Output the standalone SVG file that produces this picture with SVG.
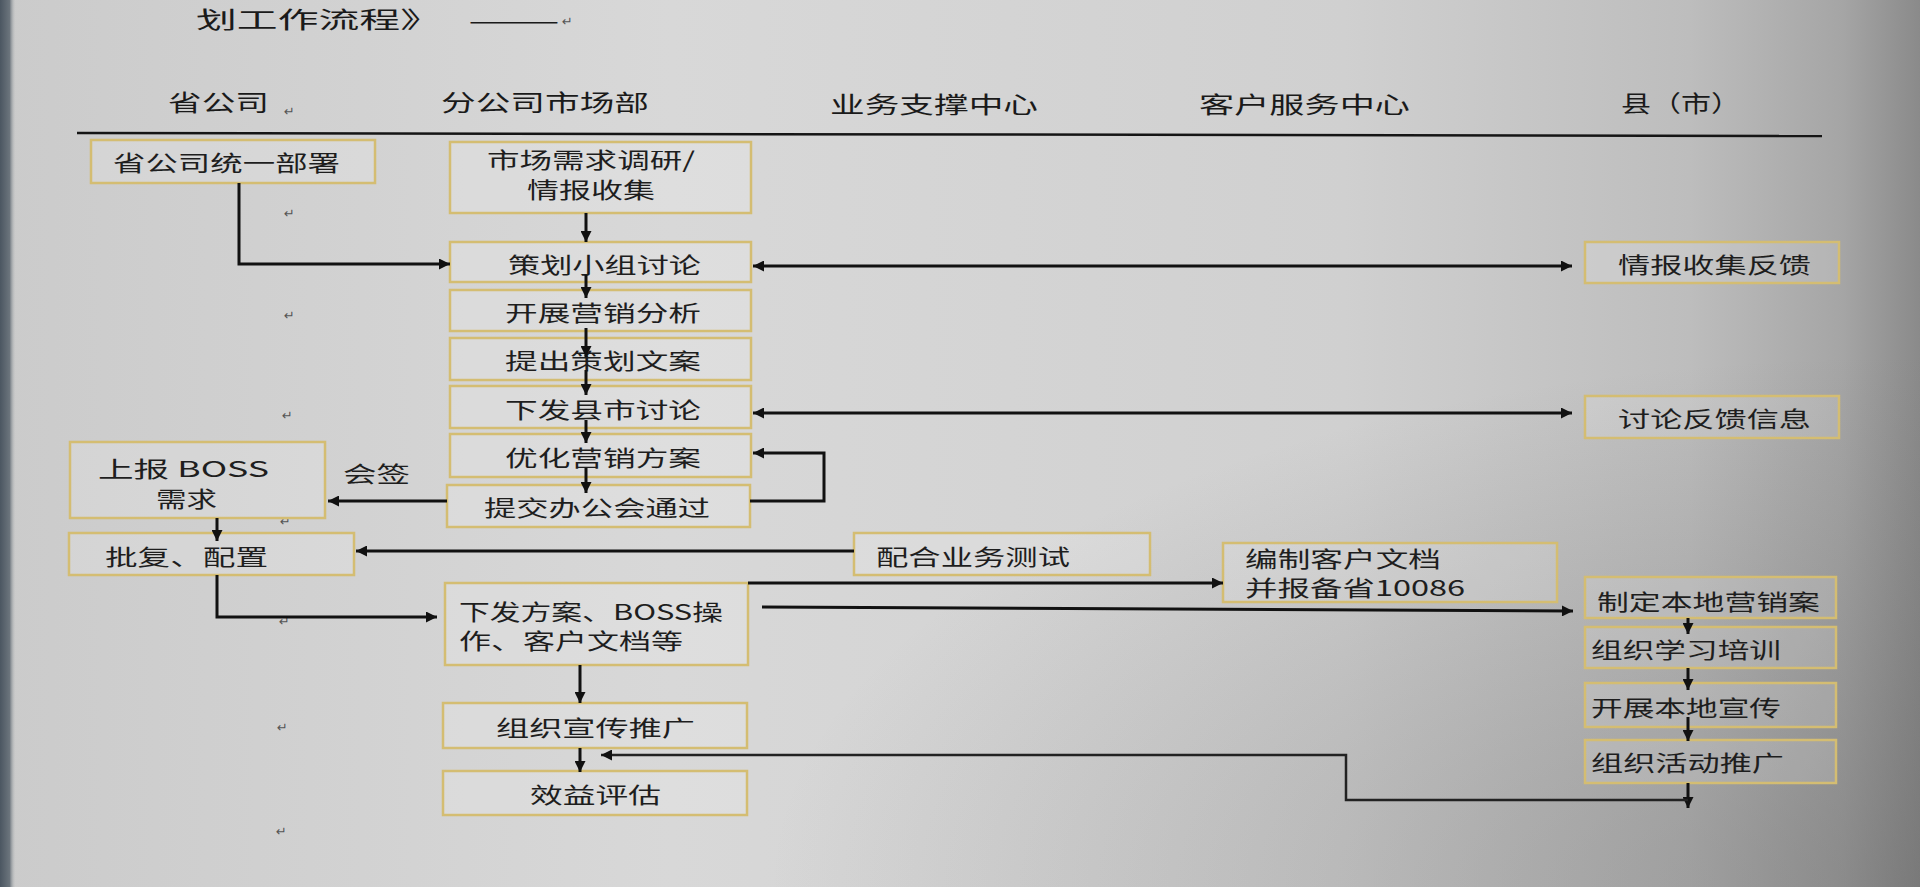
<svg xmlns="http://www.w3.org/2000/svg" width="1920" height="887" viewBox="0 0 1920 887">
<defs>
<linearGradient id="bg" x1="0" y1="0" x2="1" y2="0">
<stop offset="0" stop-color="#cbcbcb"/>
<stop offset="0.35" stop-color="#d8d8d8"/>
<stop offset="0.7" stop-color="#d0d0d0"/>
<stop offset="0.88" stop-color="#bdbdbd"/>
<stop offset="0.96" stop-color="#a5a5a5"/>
<stop offset="1" stop-color="#8a8a8a"/>
</linearGradient>
<linearGradient id="edge" x1="0" y1="0" x2="1" y2="0">
<stop offset="0" stop-color="#4b5661"/>
<stop offset="0.6" stop-color="#6b747c"/>
<stop offset="1" stop-color="#cbcbcb" stop-opacity="0"/>
</linearGradient>
<radialGradient id="shade" cx="1" cy="1" r="0.6">
<stop offset="0" stop-color="#606060" stop-opacity="0.4"/>
<stop offset="1" stop-color="#606060" stop-opacity="0"/>
</radialGradient>
<marker id="ah" viewBox="0 0 10 10" refX="10" refY="5" markerWidth="13" markerHeight="11" markerUnits="userSpaceOnUse" orient="auto-start-reverse">
<path d="M0,0 L10,5 L0,10 z" fill="#111"/>
</marker>
<style>
.box{fill:#ffffff;fill-opacity:0.16;stroke:#d4bd72;stroke-width:2.5}
.t{font-family:"Noto Sans CJK SC","DejaVu Sans",sans-serif;font-size:22px;fill:#1e1e1e}
.h{font-family:"Noto Sans CJK SC","DejaVu Sans",sans-serif;font-size:23px;fill:#1a1a1a}
.rm{font-family:"DejaVu Sans",sans-serif;font-size:13px;fill:#555}
.c{fill:none;stroke:#111;stroke-width:3}
.c2{fill:none;stroke:#222;stroke-width:2.5}
</style>
</defs>
<rect x="0" y="0" width="1920" height="887" fill="url(#bg)"/>
<rect x="0" y="0" width="1920" height="887" fill="url(#shade)"/>
<rect x="0" y="0" width="16" height="887" fill="url(#edge)"/>

<g id="title">
<text class="h" x="196" y="28" font-size="25" textLength="245" lengthAdjust="spacingAndGlyphs">划工作流程》</text>
<text class="h" x="468" y="29" font-size="14" textLength="92" lengthAdjust="spacingAndGlyphs">——</text>
<text class="rm" x="562" y="26">↵</text>
</g>

<g id="headers">
<text class="h" x="168" y="111" textLength="101" lengthAdjust="spacingAndGlyphs">省公司</text>
<text class="rm" x="284" y="116">↵</text>
<text class="h" x="441" y="111" textLength="208" lengthAdjust="spacingAndGlyphs">分公司市场部</text>
<text class="h" x="830" y="113" textLength="208" lengthAdjust="spacingAndGlyphs">业务支撑中心</text>
<text class="h" x="1199" y="113" textLength="211" lengthAdjust="spacingAndGlyphs">客户服务中心</text>
<text class="h" x="1621" y="112" textLength="120" lengthAdjust="spacingAndGlyphs">县（市）</text>
<line x1="77" y1="133" x2="1822" y2="136" stroke="#151515" stroke-width="2.5"/>
</g>

<g id="marks">
<text class="rm" x="284" y="218">↵</text>
<text class="rm" x="284" y="320">↵</text>
<text class="rm" x="282" y="420">↵</text>
<text class="rm" x="280" y="526">↵</text>
<text class="rm" x="279" y="626">↵</text>
<text class="rm" x="277" y="732">↵</text>
<text class="rm" x="276" y="836">↵</text>
</g>

<g id="n1"><rect class="box" x="91" y="140" width="284" height="43"/><text class="t" x="113" y="171" textLength="227" lengthAdjust="spacingAndGlyphs">省公司统一部署</text></g>
<g id="n2"><rect class="box" x="450" y="142" width="301" height="71"/><text class="t"><tspan x="487" y="168" textLength="208" lengthAdjust="spacingAndGlyphs">市场需求调研/</tspan><tspan x="527" y="198" textLength="128" lengthAdjust="spacingAndGlyphs">情报收集</tspan></text></g>
<g id="n3"><rect class="box" x="450" y="242" width="301" height="40"/><text class="t" x="508" y="273" textLength="193" lengthAdjust="spacingAndGlyphs">策划小组讨论</text></g>
<g id="n4"><rect class="box" x="450" y="290" width="301" height="41"/><text class="t" x="505" y="321" textLength="196" lengthAdjust="spacingAndGlyphs">开展营销分析</text></g>
<g id="n5"><rect class="box" x="450" y="338" width="301" height="42"/><text class="t" x="505" y="369" textLength="196" lengthAdjust="spacingAndGlyphs">提出策划文案</text></g>
<g id="n6"><rect class="box" x="450" y="386" width="301" height="42"/><text class="t" x="505" y="418" textLength="196" lengthAdjust="spacingAndGlyphs">下发县市讨论</text></g>
<g id="n7"><rect class="box" x="450" y="434" width="301" height="43"/><text class="t" x="505" y="466" textLength="196" lengthAdjust="spacingAndGlyphs">优化营销方案</text></g>
<g id="n8"><rect class="box" x="447" y="485" width="303" height="42"/><text class="t" x="484" y="516" textLength="226" lengthAdjust="spacingAndGlyphs">提交办公会通过</text></g>
<g id="n9"><rect class="box" x="70" y="442" width="255" height="76"/><text class="t"><tspan x="98" y="477" textLength="171" lengthAdjust="spacingAndGlyphs">上报 BOSS</tspan><tspan x="156" y="507" textLength="61" lengthAdjust="spacingAndGlyphs">需求</tspan></text></g>
<g id="lbl-huiqian"><text class="t" x="343" y="482" textLength="67" lengthAdjust="spacingAndGlyphs">会签</text></g>
<g id="n10"><rect class="box" x="69" y="533" width="285" height="42"/><text class="t" x="105" y="565" textLength="163" lengthAdjust="spacingAndGlyphs">批复、配置</text></g>
<g id="n11"><rect class="box" x="854" y="533" width="296" height="42"/><text class="t" x="876" y="565" textLength="194" lengthAdjust="spacingAndGlyphs">配合业务测试</text></g>
<g id="n12"><rect class="box" x="1223" y="543" width="334" height="59"/><text class="t" font-size="18"><tspan x="1245" y="567" textLength="196" lengthAdjust="spacingAndGlyphs">编制客户文档</tspan><tspan x="1245" y="596" textLength="220" lengthAdjust="spacingAndGlyphs">并报备省10086</tspan></text></g>
<g id="n13"><rect class="box" x="445" y="583" width="303" height="82"/><text class="t"><tspan x="459" y="620" textLength="264" lengthAdjust="spacingAndGlyphs">下发方案、BOSS操</tspan><tspan x="459" y="649" textLength="224" lengthAdjust="spacingAndGlyphs">作、客户文档等</tspan></text></g>
<g id="n14"><rect class="box" x="443" y="703" width="304" height="45"/><text class="t" x="496" y="736" textLength="199" lengthAdjust="spacingAndGlyphs">组织宣传推广</text></g>
<g id="n15"><rect class="box" x="443" y="771" width="304" height="44"/><text class="t" x="530" y="803" textLength="131" lengthAdjust="spacingAndGlyphs">效益评估</text></g>
<g id="n16"><rect class="box" x="1585" y="242" width="254" height="41"/><text class="t" x="1618" y="273" textLength="193" lengthAdjust="spacingAndGlyphs">情报收集反馈</text></g>
<g id="n17"><rect class="box" x="1585" y="396" width="254" height="42"/><text class="t" x="1618" y="427" textLength="193" lengthAdjust="spacingAndGlyphs">讨论反馈信息</text></g>
<g id="n18"><rect class="box" x="1585" y="577" width="251" height="41"/><text class="t" x="1597" y="610" textLength="223" lengthAdjust="spacingAndGlyphs">制定本地营销案</text></g>
<g id="n19"><rect class="box" x="1585" y="627" width="251" height="41"/><text class="t" x="1591" y="658" textLength="190" lengthAdjust="spacingAndGlyphs">组织学习培训</text></g>
<g id="n20"><rect class="box" x="1585" y="683" width="251" height="44"/><text class="t" x="1591" y="716" textLength="190" lengthAdjust="spacingAndGlyphs">开展本地宣传</text></g>
<g id="n21"><rect class="box" x="1585" y="740" width="251" height="43"/><text class="t" x="1591" y="771" textLength="193" lengthAdjust="spacingAndGlyphs">组织活动推广</text></g>

<g id="connectors">
<path class="c" d="M239,183 V264 H450" marker-end="url(#ah)"/>
<path class="c" d="M586,213 V242" marker-end="url(#ah)"/>
<path class="c" d="M586,275 V298" marker-end="url(#ah)"/>
<path class="c" d="M586,328 V357" marker-end="url(#ah)"/>
<path class="c" d="M586,370 V395" marker-end="url(#ah)"/>
<path class="c" d="M586,420 V443" marker-end="url(#ah)"/>
<path class="c" d="M586,468 V493" marker-end="url(#ah)"/>
<path class="c" d="M753,266 H1572" marker-start="url(#ah)" marker-end="url(#ah)"/>
<path class="c" d="M753,413 H1572" marker-start="url(#ah)" marker-end="url(#ah)"/>
<path class="c" d="M750,501 H824 V453 H753" marker-end="url(#ah)"/>
<path class="c" d="M447,501 H328" marker-end="url(#ah)"/>
<path class="c" d="M217,518 V541" marker-end="url(#ah)"/>
<path class="c" d="M854,551 H356" marker-end="url(#ah)"/>
<path class="c" d="M217,575 V617 H437" marker-end="url(#ah)"/>
<path class="c" d="M748,583 H1223" marker-end="url(#ah)"/>
<path class="c" d="M762,607 L1573,611" marker-end="url(#ah)"/>
<path class="c" d="M580,665 V703" marker-end="url(#ah)"/>
<path class="c" d="M580,748 V772" marker-end="url(#ah)"/>
<path class="c" d="M1688,618 V634" marker-end="url(#ah)"/>
<path class="c" d="M1688,668 V690" marker-end="url(#ah)"/>
<path class="c" d="M1688,717 V741" marker-end="url(#ah)"/>
<path class="c" d="M1688,783 V808" marker-end="url(#ah)"/>
<path class="c2" d="M1688,800 H1346 V755 H601" marker-end="url(#ah)"/>
</g>
</svg>
